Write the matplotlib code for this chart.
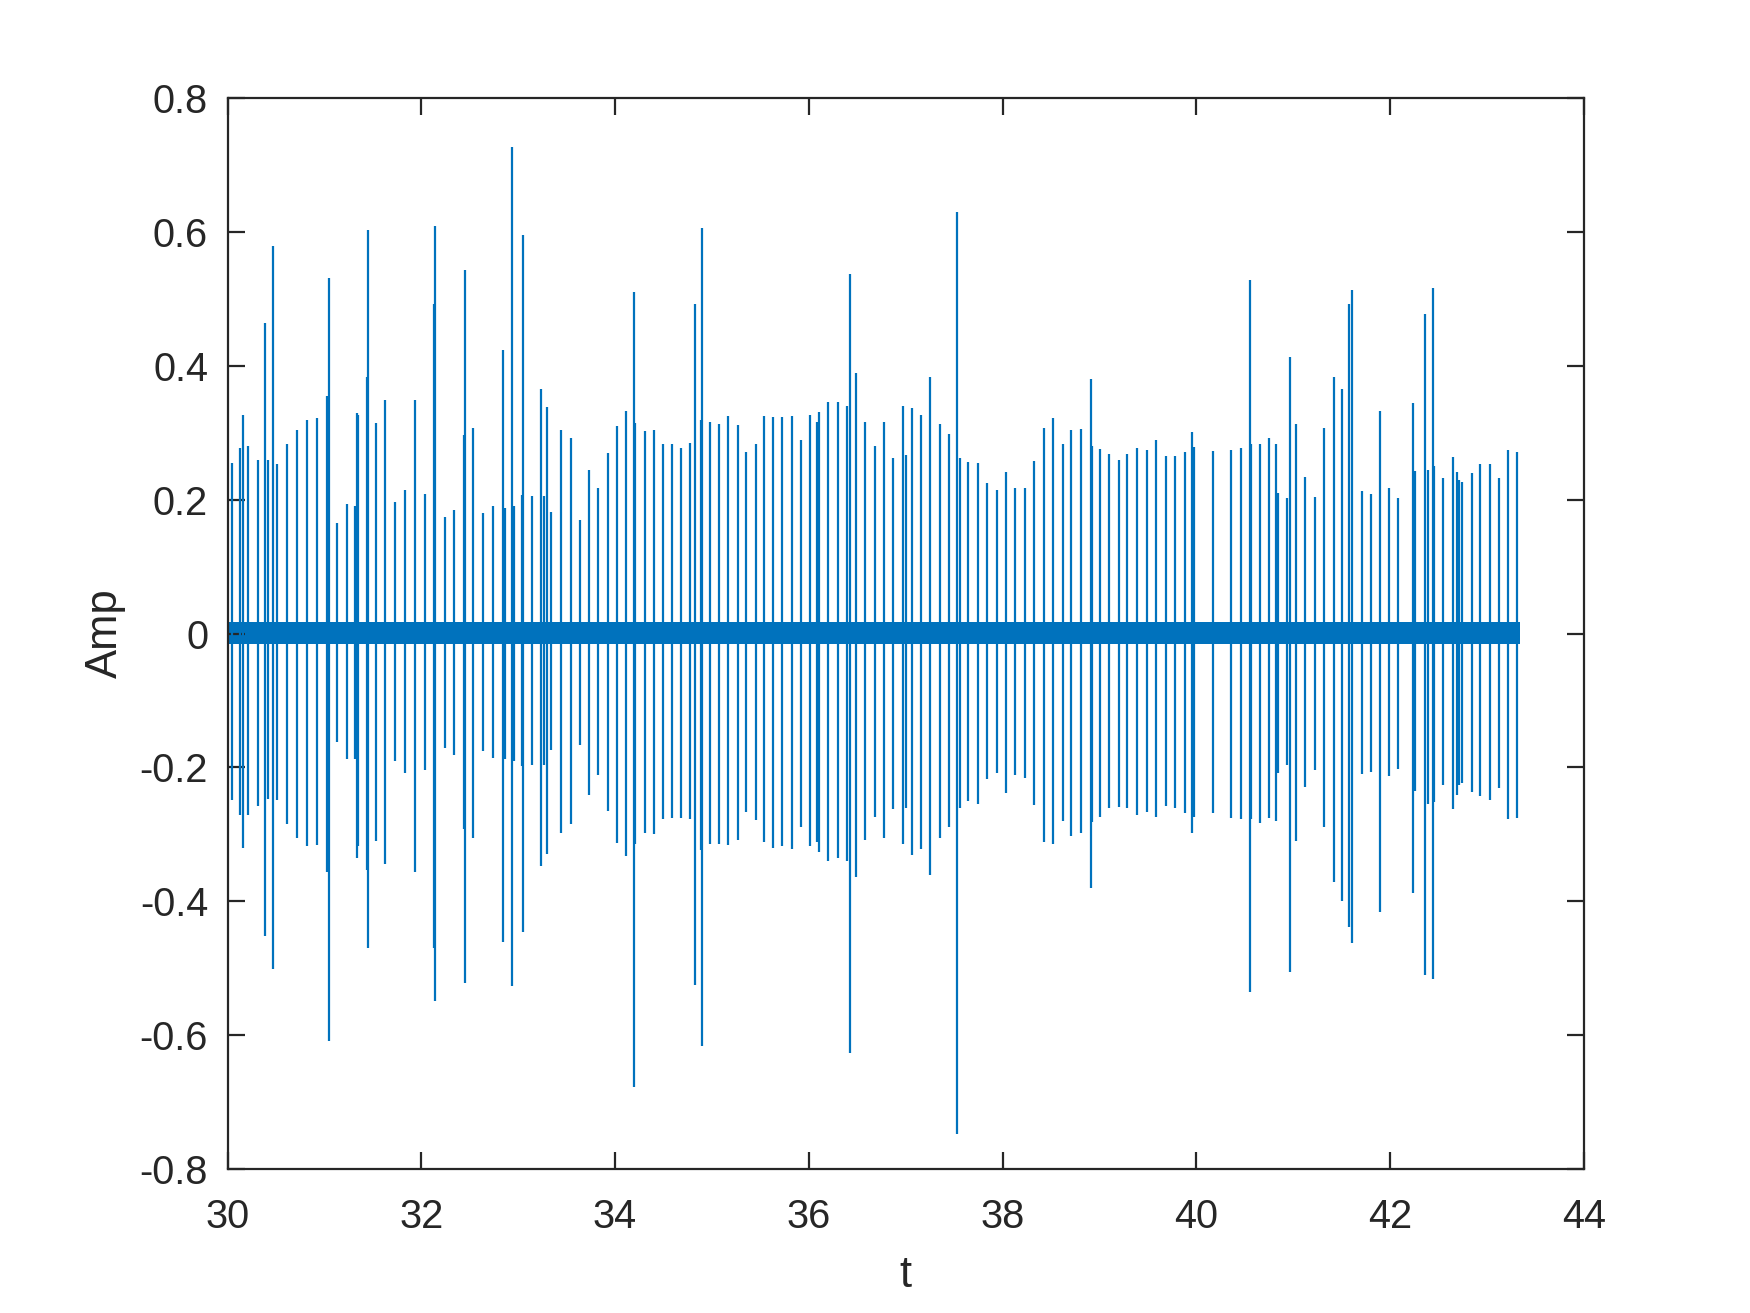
import matplotlib
matplotlib.use("Agg")
import matplotlib.pyplot as plt
from matplotlib.ticker import FuncFormatter

# ---- data ----
spike_t = [30.047, 30.13, 30.16, 30.216, 30.316, 30.385, 30.42, 30.474, 30.516, 30.616,
           30.719, 30.822, 30.926, 31.03, 31.045, 31.13, 31.233, 31.32, 31.333, 31.35,
           31.44, 31.453, 31.53, 31.63, 31.729, 31.833, 31.936, 32.04, 32.13, 32.146,
           32.243, 32.336, 32.44, 32.453, 32.536, 32.642, 32.742, 32.846, 32.86, 32.94,
           32.955, 33.045, 33.05, 33.139, 33.239, 33.27, 33.298, 33.342, 33.446, 33.542,
           33.639, 33.735, 33.828, 33.925, 34.02, 34.118, 34.2, 34.21, 34.307, 34.4,
           34.497, 34.586, 34.684, 34.777, 34.821, 34.89, 34.897, 34.976, 35.072, 35.169,
           35.266, 35.356, 35.452, 35.542, 35.631, 35.728, 35.824, 35.917, 36.013, 36.083,
           36.107, 36.203, 36.297, 36.393, 36.427, 36.489, 36.582, 36.679, 36.776, 36.872,
           36.969, 37.003, 37.065, 37.161, 37.254, 37.355, 37.451, 37.534, 37.561, 37.647,
           37.744, 37.841, 37.941, 38.037, 38.133, 38.234, 38.327, 38.427, 38.526, 38.62,
           38.712, 38.806, 38.913, 38.925, 39.009, 39.102, 39.199, 39.289, 39.392, 39.488,
           39.589, 39.685, 39.785, 39.881, 39.953, 39.978, 40.171, 40.361, 40.467, 40.553,
           40.562, 40.66, 40.75, 40.822, 40.843, 40.936, 40.967, 41.03, 41.126, 41.225,
           41.318, 41.419, 41.509, 41.577, 41.605, 41.709, 41.805, 41.898, 41.988, 42.084,
           42.239, 42.263, 42.363, 42.388, 42.446, 42.456, 42.549, 42.646, 42.688, 42.711,
           42.742, 42.843, 42.932, 43.029, 43.122, 43.215, 43.315]

spike_pos = [0.255, 0.278, 0.326, 0.280, 0.260, 0.465, 0.260, 0.579, 0.254, 0.284,
             0.304, 0.320, 0.322, 0.355, 0.531, 0.165, 0.194, 0.190, 0.329, 0.326,
             0.383, 0.603, 0.315, 0.349, 0.196, 0.214, 0.349, 0.209, 0.492, 0.609,
             0.174, 0.185, 0.297, 0.544, 0.307, 0.180, 0.191, 0.424, 0.188, 0.728,
             0.190, 0.207, 0.596, 0.206, 0.366, 0.205, 0.338, 0.181, 0.304, 0.292,
             0.170, 0.245, 0.218, 0.270, 0.310, 0.332, 0.511, 0.315, 0.303, 0.305,
             0.283, 0.283, 0.277, 0.285, 0.493, 0.320, 0.607, 0.317, 0.314, 0.325,
             0.312, 0.271, 0.283, 0.325, 0.324, 0.323, 0.325, 0.290, 0.326, 0.317,
             0.331, 0.346, 0.346, 0.340, 0.538, 0.390, 0.316, 0.281, 0.317, 0.262,
             0.340, 0.267, 0.337, 0.327, 0.383, 0.314, 0.299, 0.631, 0.263, 0.257,
             0.255, 0.225, 0.214, 0.242, 0.218, 0.217, 0.258, 0.308, 0.322, 0.284,
             0.305, 0.306, 0.380, 0.280, 0.276, 0.269, 0.259, 0.269, 0.277, 0.275,
             0.289, 0.265, 0.265, 0.272, 0.302, 0.279, 0.273, 0.274, 0.278, 0.528,
             0.283, 0.283, 0.292, 0.283, 0.210, 0.202, 0.413, 0.314, 0.234, 0.204,
             0.308, 0.384, 0.365, 0.492, 0.513, 0.213, 0.208, 0.333, 0.218, 0.202,
             0.344, 0.243, 0.478, 0.244, 0.517, 0.250, 0.232, 0.264, 0.242, 0.230,
             0.227, 0.240, 0.253, 0.254, 0.233, 0.274, 0.271]

spike_neg = [-0.249, -0.272, -0.320, -0.272, -0.258, -0.452, -0.248, -0.502, -0.249, -0.285,
             -0.306, -0.317, -0.316, -0.356, -0.610, -0.162, -0.187, -0.187, -0.336, -0.318,
             -0.354, -0.470, -0.310, -0.344, -0.191, -0.209, -0.356, -0.204, -0.470, -0.549,
             -0.171, -0.182, -0.292, -0.522, -0.305, -0.175, -0.186, -0.461, -0.187, -0.527,
             -0.190, -0.198, -0.447, -0.196, -0.347, -0.196, -0.330, -0.174, -0.298, -0.285,
             -0.167, -0.242, -0.211, -0.265, -0.313, -0.332, -0.678, -0.315, -0.299, -0.300,
             -0.277, -0.276, -0.276, -0.278, -0.526, -0.323, -0.616, -0.315, -0.314, -0.316,
             -0.309, -0.267, -0.279, -0.312, -0.320, -0.317, -0.322, -0.289, -0.318, -0.312,
             -0.327, -0.340, -0.335, -0.340, -0.627, -0.364, -0.308, -0.275, -0.305, -0.262,
             -0.315, -0.261, -0.331, -0.322, -0.361, -0.305, -0.290, -0.749, -0.261, -0.250,
             -0.255, -0.217, -0.208, -0.238, -0.212, -0.216, -0.257, -0.311, -0.314, -0.281,
             -0.302, -0.298, -0.380, -0.282, -0.274, -0.261, -0.260, -0.261, -0.272, -0.267,
             -0.274, -0.258, -0.261, -0.268, -0.299, -0.274, -0.269, -0.276, -0.278, -0.536,
             -0.278, -0.284, -0.276, -0.280, -0.208, -0.197, -0.506, -0.310, -0.230, -0.204,
             -0.290, -0.371, -0.400, -0.439, -0.463, -0.210, -0.207, -0.416, -0.213, -0.202,
             -0.388, -0.236, -0.510, -0.255, -0.517, -0.252, -0.227, -0.263, -0.242, -0.227,
             -0.223, -0.237, -0.243, -0.249, -0.231, -0.277, -0.276]

signal_span = [30.0, 43.345]       # time range of the recorded signal
noise_band = [-0.016, 0.017]        # baseline noise envelope

x_ticks = [30, 32, 34, 36, 38, 40, 42, 44]
y_ticks = [-0.8, -0.6, -0.4, -0.2, 0, 0.2, 0.4, 0.6, 0.8]

# ---- figure ----
plt.rcParams['font.family'] = ['Liberation Sans', 'DejaVu Sans']
line_color = '#0072BD'
axis_color = '#262626'

fig = plt.figure(figsize=(8.75, 6.565), dpi=200)
ax = fig.add_axes([0.13, 0.11, 0.775, 0.815])

ax.fill_between(signal_span, [noise_band[0]] * 2, [noise_band[1]] * 2,
                color=line_color, linewidth=0)
ax.vlines(spike_t, spike_neg, spike_pos, colors=line_color, linewidth=0.8)

ax.set_xlim(30, 44)
ax.set_ylim(-0.8, 0.8)
ax.set_xticks(x_ticks)
ax.set_yticks(y_ticks)
ax.yaxis.set_major_formatter(FuncFormatter(lambda v, p: ('%g' % v).replace('\u2212', '-')))

ax.tick_params(direction='in', length=6, width=0.8, top=True, right=True,
               labelsize=14.3, colors=axis_color)
ax.tick_params(axis='x', pad=10.5)
ax.tick_params(axis='y', pad=7)
for s in ax.spines.values():
    s.set_color(axis_color)
    s.set_linewidth(0.8)

ax.set_xlabel('t', fontsize=15.7, color=axis_color, labelpad=7)
ax.set_ylabel('Amp', fontsize=15.7, color=axis_color, labelpad=4.8)

fig.savefig('out.png', dpi=200)
